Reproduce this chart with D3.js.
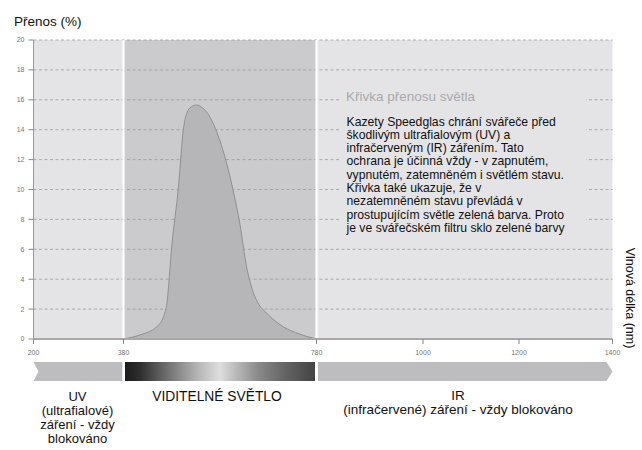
<!DOCTYPE html>
<html>
<head>
<meta charset="utf-8">
<script src="https://d3js.org/d3.v7.min.js"></script>
<style>
body { margin: 0; background: #fff; }
text { font-family: "Liberation Sans", Arial, sans-serif; }
.tick-label { font-family: "Liberation Sans Narrow", "Liberation Sans", sans-serif; font-size: 7px; fill: #777; }
</style>
</head>
<body>
<div id="chart"></div>
<script>
/* Data */
var xTicks = [200, 380, 780, 1000, 1200, 1400];
var yTicks = [0, 2, 4, 6, 8, 10, 12, 14, 16, 18, 20];
var bandEdges = [200, 380, 780, 1400];   // UV | visible | IR

var curveNm  = [380, 414, 449, 463, 470, 480, 494, 504, 511, 521, 532, 542, 552, 573, 590, 607, 621, 635, 646, 658, 677, 711, 745, 780];
var curveVal = [0, 0.27, 0.82, 1.5, 2.4, 6.2, 10.2, 14.0, 15.1, 15.54, 15.65, 15.5, 15.2, 13.87, 12.2, 9.97, 7.74, 4.84, 3.4, 2.45, 1.72, 0.82, 0.33, 0];

var boxTitle = "Křivka přenosu světla";
var boxLines = [
    "Kazety Speedglas chrání svářeče před",
    "škodlivým ultrafialovým (UV) a",
    "infračerveným (IR) zářením. Tato",
    "ochrana je účinná vždy - v zapnutém,",
    "vypnutém, zatemněném i světlém stavu.",
    "Křivka také ukazuje, že v",
    "nezatemněném stavu převládá v",
    "prostupujícím světle zelená barva. Proto",
    "je ve svářečském filtru sklo zelené barvy"
];
var uvLabel = ["UV", "(ultrafialové)", "záření - vždy", "blokováno"];
var visLabel = ["VIDITELNÉ SVĚTLO"];
var irLabel = ["IR", "(infračervené) záření - vždy blokováno"];

var svg = d3.select("#chart").append("svg")
    .attr("width", 642)
    .attr("height", 450);

/* the wavelength axis of the original is not evenly spaced */
var x = d3.scaleLinear()
    .domain(xTicks)
    .range([33.5, 123.5, 316.5, 423, 519, 612.5]);
var y = d3.scaleLinear()
    .domain([0, 20])
    .range([339, 40]);

/* Background regions */
var regionFill = ["#e4e4e6", "#cbcbcd", "#e4e4e6"];
for (var i = 0; i < bandEdges.length - 1; i++) {
    svg.append("rect")
        .attr("x", x(bandEdges[i]))
        .attr("y", y(20))
        .attr("width", x(bandEdges[i + 1]) - x(bandEdges[i]))
        .attr("height", y(0) - y(20))
        .attr("fill", regionFill[i]);
}

/* Dashed grid */
yTicks.forEach(function(t) {
    if (t === 0) return;
    svg.append("line")
        .attr("x1", x(200)).attr("x2", x(1400))
        .attr("y1", y(t)).attr("y2", y(t))
        .attr("stroke", "#9a9a9a")
        .attr("stroke-width", 0.8)
        .attr("stroke-dasharray", "3,2.5");
});

/* Transmission curve */
var curveData = curveNm.map(function(d, i) { return {nm: d, v: curveVal[i]}; });
var area = d3.area()
    .x(function(d) { return x(d.nm); })
    .y0(y(0))
    .y1(function(d) { return y(d.v); })
    .curve(d3.curveMonotoneX);
var line = d3.line()
    .x(function(d) { return x(d.nm); })
    .y(function(d) { return y(d.v); })
    .curve(d3.curveMonotoneX);
svg.append("path")
    .datum(curveData)
    .attr("d", area)
    .attr("fill", "#b6b6b8");
svg.append("path")
    .datum(curveData)
    .attr("d", line)
    .attr("fill", "none")
    .attr("stroke", "#8a8a8a")
    .attr("stroke-width", 0.9);

/* White separators at 380 and 780 */
[380, 780].forEach(function(v) {
    svg.append("line")
        .attr("x1", x(v)).attr("x2", x(v))
        .attr("y1", y(20)).attr("y2", y(0))
        .attr("stroke", "#fff")
        .attr("stroke-width", 2.2);
});

/* Text box (covers the grid) */
svg.append("rect")
    .attr("x", 339).attr("y", 80)
    .attr("width", 247).attr("height", 160)
    .attr("fill", "#e4e4e6");
svg.append("text")
    .attr("x", 346).attr("y", 101)
    .attr("font-size", "13.5px")
    .attr("fill", "#a9a9ab")
    .text(boxTitle);
boxLines.forEach(function(s, i) {
    svg.append("text")
        .attr("x", 346.5)
        .attr("y", 125.5 + i * 13.3)
        .attr("font-size", "12.2px")
        .attr("fill", "#111")
        .text(s);
});

/* Y axis */
svg.append("line")
    .attr("x1", x(200)).attr("x2", x(200))
    .attr("y1", y(20)).attr("y2", y(0))
    .attr("stroke", "#999");
yTicks.forEach(function(t) {
    svg.append("line")
        .attr("x1", x(200) - 5).attr("x2", x(200))
        .attr("y1", y(t)).attr("y2", y(t))
        .attr("stroke", "#888");
    svg.append("text")
        .attr("class", "tick-label")
        .attr("x", x(200) - 9)
        .attr("y", y(t))
        .attr("dy", "0.35em")
        .attr("text-anchor", "end")
        .text(t);
});

/* X axis */
svg.append("line")
    .attr("x1", x(200)).attr("x2", x(1400))
    .attr("y1", y(0)).attr("y2", y(0))
    .attr("stroke", "#a8a8a8")
    .attr("stroke-width", 2);
xTicks.forEach(function(t) {
    svg.append("line")
        .attr("x1", x(t)).attr("x2", x(t))
        .attr("y1", y(0)).attr("y2", y(0) + 5)
        .attr("stroke", "#888");
    svg.append("text")
        .attr("class", "tick-label")
        .attr("x", x(t))
        .attr("y", 355)
        .attr("text-anchor", "middle")
        .text(t);
});

/* Axis titles */
svg.append("text")
    .attr("x", 14).attr("y", 26)
    .attr("font-size", "13.5px")
    .attr("fill", "#111")
    .text("Přenos (%)");
svg.append("text")
    .attr("transform", "translate(626,298) rotate(90)")
    .attr("text-anchor", "middle")
    .attr("font-size", "12.5px")
    .attr("fill", "#111")
    .text("Vlnová délka (nm)");

/* Spectrum band */
var bandTop = 362, bandBot = 381, bandMid = (bandTop + bandBot) / 2;
var defs = svg.append("defs");
var grad = defs.append("linearGradient").attr("id", "visgrad");
[[0, "#1c1c1c"], [0.08, "#2e2e2e"], [0.22, "#6e6e6e"], [0.38, "#b4b4b4"], [0.5, "#dedede"],
 [0.56, "#c4c4c4"], [0.7, "#8a8a8a"], [0.85, "#626262"], [1, "#434343"]].forEach(function(s) {
    grad.append("stop").attr("offset", s[0]).attr("stop-color", s[1]);
});

var uvPath = d3.path();
uvPath.moveTo(x(200), bandTop);
uvPath.lineTo(x(380) - 1.2, bandTop);
uvPath.lineTo(x(380) - 1.2, bandBot);
uvPath.lineTo(x(200), bandBot);
uvPath.lineTo(x(200) + 5, bandMid);
uvPath.closePath();
svg.append("path").attr("d", uvPath.toString()).attr("fill", "#bdbdbf");

svg.append("rect")
    .attr("x", x(380) + 1.5).attr("y", bandTop)
    .attr("width", x(780) - x(380) - 3).attr("height", bandBot - bandTop)
    .attr("fill", "url(#visgrad)");

var irPath = d3.path();
irPath.moveTo(x(780) + 1.5, bandTop);
irPath.lineTo(x(1400) - 6, bandTop);
irPath.lineTo(x(1400), bandMid);
irPath.lineTo(x(1400) - 6, bandBot);
irPath.lineTo(x(780) + 1.5, bandBot);
irPath.closePath();
svg.append("path").attr("d", irPath.toString()).attr("fill", "#bdbdbf");

/* Band labels */
function labelBlock(lines, cx, y0, dy, size) {
    lines.forEach(function(s, i) {
        svg.append("text")
            .attr("x", cx)
            .attr("y", y0 + i * dy)
            .attr("text-anchor", "middle")
            .attr("font-size", size)
            .attr("fill", "#111")
            .text(s);
    });
}
labelBlock(uvLabel, 77.5, 400.5, 14.2, "13px");
labelBlock(visLabel, 217, 400.5, 14.2, "13.8px");
labelBlock(irLabel, 458, 399.5, 14.2, "13.5px");
</script>
</body>
</html>
